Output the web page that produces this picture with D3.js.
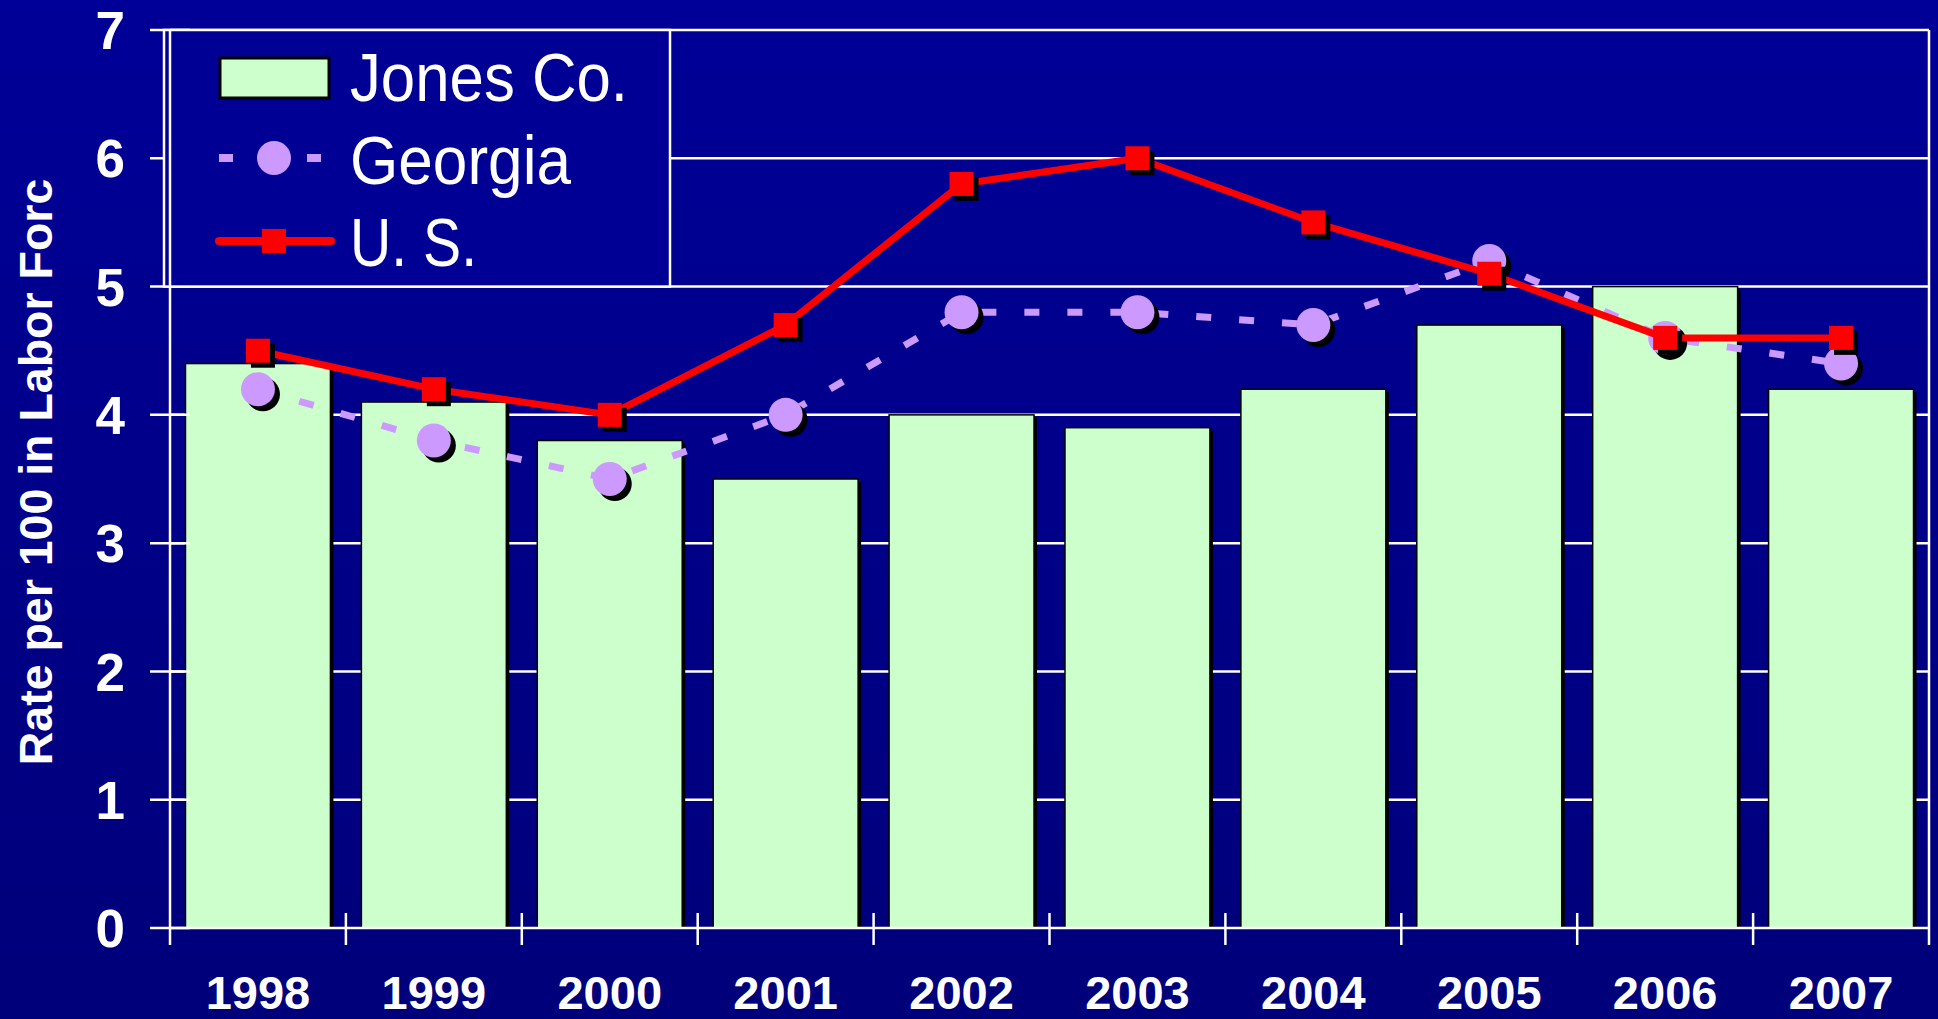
<!DOCTYPE html>
<html><head><meta charset="utf-8">
<script src="https://cdn.jsdelivr.net/npm/d3@7"></script>
<style>html,body{margin:0;padding:0;overflow:hidden;background:#000090}</style>
</head><body>
<svg id="c" width="1938" height="1019"></svg>
<script>
const years = ["1998","1999","2000","2001","2002","2003","2004","2005","2006","2007"];
const jonesCo = [4.4,4.1,3.8,3.5,4.0,3.9,4.2,4.7,5.0,4.2];
const georgia = [4.2,3.8,3.5,4.0,4.8,4.8,4.7,5.2,4.6,4.4];
const us = [4.5,4.2,4.0,4.7,5.8,6.0,5.5,5.1,4.6,4.6];
const yTicks = [0,1,2,3,4,5,6,7];
const legendLabels = ["Jones Co.","Georgia","U. S."];
const yTitle = "Rate per 100 in Labor Forc";

(function(){
const svg = d3.select("#c");
const defs = svg.append("defs");
const g = defs.append("linearGradient").attr("id","bg").attr("x1",0).attr("y1",0).attr("x2",0).attr("y2",1);
g.append("stop").attr("offset","0%").attr("stop-color","#000098");
g.append("stop").attr("offset","100%").attr("stop-color","#00007A");
svg.append("rect").attr("width",1938).attr("height",1019).attr("fill","url(#bg)");

const pL=170, pR=1929, pT=30, pB=928;
const x = d3.scaleBand().domain(years).range([pL,pR]).padding(0);
const y = d3.scaleLinear().domain([0,7]).range([pB,pT]);
const bw = x.bandwidth()*0.824;
const cx = d => x(d)+x.bandwidth()/2;

// gridlines
svg.append("g").selectAll("line").data(yTicks.filter(t=>t>0)).join("line")
  .attr("x1",pL).attr("x2",pR).attr("y1",d=>y(d)).attr("y2",d=>y(d))
  .attr("stroke","#fff").attr("stroke-width",2.5);
svg.append("line").attr("x1",pR).attr("x2",pR).attr("y1",y(7)).attr("y2",y(0)+17).attr("stroke","#fff").attr("stroke-width",2.5);

// bars
const bars = svg.append("g");
bars.selectAll("rect.sh").data(years).join("rect").attr("class","sh")
  .attr("x",d=>x(d)+(x.bandwidth()-bw)/2+3).attr("y",(d,i)=>y(jonesCo[i])+3)
  .attr("width",bw).attr("height",(d,i)=>y(0)-y(jonesCo[i])-3).attr("fill","#000");
bars.selectAll("rect.b").data(years).join("rect").attr("class","b")
  .attr("x",d=>x(d)+(x.bandwidth()-bw)/2).attr("y",(d,i)=>y(jonesCo[i]))
  .attr("width",bw).attr("height",(d,i)=>y(0)-y(jonesCo[i])).attr("fill","#CCFFCC")
  .attr("stroke","#000").attr("stroke-width",1.5);

// axes
svg.append("line").attr("x1",pL).attr("x2",pR).attr("y1",y(0)).attr("y2",y(0)).attr("stroke","#fff").attr("stroke-width",2.5);
svg.append("line").attr("x1",pL).attr("x2",pL).attr("y1",y(7)).attr("y2",y(0)+17).attr("stroke","#fff").attr("stroke-width",2.5);
svg.append("g").selectAll("line").data(yTicks).join("line")
  .attr("x1",150).attr("x2",190).attr("y1",d=>y(d)).attr("y2",d=>y(d)).attr("stroke","#fff").attr("stroke-width",2.5);
svg.append("g").selectAll("line").data(years.slice(1)).join("line")
  .attr("x1",d=>x(d)).attr("x2",d=>x(d)).attr("y1",y(0)-15).attr("y2",y(0)+17).attr("stroke","#fff").attr("stroke-width",2.5);

svg.append("g").selectAll("text").data(yTicks).join("text")
  .attr("x",125).attr("y",d=>y(d)).attr("dy","0.36em").attr("text-anchor","end")
  .attr("fill","#fff").attr("font-family","Liberation Sans, Arial, sans-serif").attr("font-weight","bold").attr("font-size",53)
  .text(d=>d);
svg.append("g").selectAll("text").data(years).join("text")
  .attr("x",cx).attr("y",1009).attr("text-anchor","middle")
  .attr("fill","#fff").attr("font-family","Liberation Sans, Arial, sans-serif").attr("font-weight","bold").attr("font-size",47)
  .text(d=>d);
svg.append("text").attr("transform","translate(52,472) rotate(-90)").attr("text-anchor","middle")
  .attr("fill","#fff").attr("font-family","Liberation Sans, Arial, sans-serif").attr("font-weight","bold").attr("font-size",46.5)
  .text(yTitle);

// Georgia line
const line = d3.line().x((d,i)=>cx(years[i])).y(d=>y(d));
svg.append("path").attr("d",line(georgia)).attr("fill","none").attr("stroke","#CC99FF").attr("stroke-width",7).attr("stroke-dasharray","15,28");
svg.append("g").selectAll("circle").data(georgia).join("circle")
  .attr("cx",(d,i)=>cx(years[i])+5).attr("cy",d=>y(d)+5).attr("r",17).attr("fill","#000");
svg.append("g").selectAll("circle").data(georgia).join("circle")
  .attr("cx",(d,i)=>cx(years[i])).attr("cy",d=>y(d)).attr("r",17).attr("fill","#CC99FF");

// US line
svg.append("path").attr("d",line(us)).attr("fill","none").attr("stroke","#FF0000").attr("stroke-width",7).attr("stroke-linejoin","round");
svg.append("g").selectAll("rect").data(us).join("rect")
  .attr("x",(d,i)=>cx(years[i])-12+5).attr("y",d=>y(d)-12+5).attr("width",24).attr("height",24).attr("fill","#000");
svg.append("g").selectAll("rect").data(us).join("rect")
  .attr("x",(d,i)=>cx(years[i])-12).attr("y",d=>y(d)-12).attr("width",24).attr("height",24).attr("fill","#FF0000");

// legend
const lg = svg.append("g");
lg.append("rect").attr("x",164).attr("y",y(7)).attr("width",670-164).attr("height",y(5)-y(7))
  .attr("fill","#000094").attr("stroke","#fff").attr("stroke-width",2.5);
lg.append("line").attr("x1",pL).attr("x2",pL).attr("y1",y(7)).attr("y2",y(5)).attr("stroke","#fff").attr("stroke-width",2.5);
lg.append("rect").attr("x",220).attr("y",58).attr("width",109).attr("height",40).attr("fill","#CCFFCC").attr("stroke","#000").attr("stroke-width",3);
lg.append("line").attr("x1",219).attr("x2",330).attr("y1",158).attr("y2",158).attr("stroke","#CC99FF").attr("stroke-width",8).attr("stroke-dasharray","14,74");
lg.append("circle").attr("cx",274).attr("cy",158).attr("r",17).attr("fill","#CC99FF");
lg.append("line").attr("x1",219).attr("x2",331).attr("y1",241).attr("y2",241).attr("stroke","#FF0000").attr("stroke-width",8).attr("stroke-linecap","round");
lg.append("rect").attr("x",262).attr("y",229).attr("width",24).attr("height",24).attr("fill","#FF0000");
const lpos = [[101,278],[184,221],[266,127]];
lg.selectAll("text").data(legendLabels).join("text")
  .attr("x",350).attr("y",(d,i)=>lpos[i][0]).attr("textLength",(d,i)=>lpos[i][1]).attr("lengthAdjust","spacingAndGlyphs")
  .attr("fill","#fff").attr("font-family","Liberation Sans Narrow, Arial Narrow, Liberation Sans, sans-serif").attr("font-size",68)
  .text(d=>d);
})();
</script>
</body></html>
